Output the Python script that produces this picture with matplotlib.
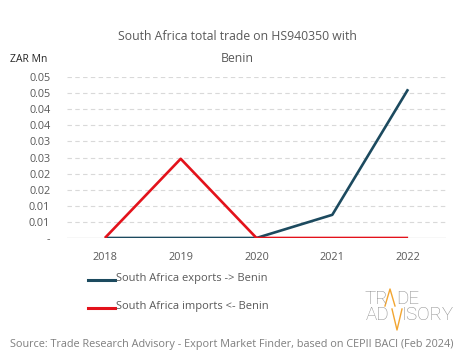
import numpy as np
import matplotlib.pyplot as plt
from matplotlib.lines import Line2D

# data
years = ['2018', '2019', '2020', '2021', '2022']
exports = [0.0, 0.0, 0.0, 0.0072, 0.0462]
imports = [0.0, 0.0246, 0.0, 0.0, 0.0]
ytick_vals = [0, 0.005, 0.01, 0.015, 0.02, 0.025, 0.03, 0.035, 0.04, 0.045, 0.05]
ytick_labels = ['-', '0.01', '0.01', '0.02', '0.02', '0.03', '0.03', '0.04', '0.04', '0.05', '0.05']

plt.rcParams['font.family'] = ['Open Sans', 'DejaVu Sans']

W, H = 465, 359
fig = plt.figure(figsize=(W / 100, H / 100), dpi=100)
ax = fig.add_axes([67 / W, 1 - 238 / H, 379 / W, 161 / H])

x = np.arange(len(years))
ax.plot(x, exports, color='#1c4a5f', lw=1.9, solid_capstyle='butt', zorder=3)
ax.plot(x, imports, color='#e3121b', lw=1.9, solid_capstyle='butt', zorder=3)

ax.set_xlim(-0.5, len(years) - 0.5)
ax.set_ylim(0, 0.05)
ax.set_yticks(ytick_vals)
ax.set_yticklabels(ytick_labels)
ax.set_xticks(x)
ax.set_xticklabels(years)
ax.tick_params(length=0, labelsize=7.8, colors='#595959')
ax.tick_params(axis='y', pad=12)
ax.tick_params(axis='x', pad=10)
for v in ytick_vals[1:]:
    ax.axhline(v, color='#d9d9d9', lw=0.8, ls=(0, (4, 3)), zorder=1)
ax.axhline(0, color='#d9d9d9', lw=1.0, zorder=2)
for s in ax.spines.values():
    s.set_visible(False)

# title and axis unit
fig.text(237 / W, 1 - 36 / H, 'South Africa total trade on HS940350 with',
         ha='center', va='center', fontsize=8.8, color='#595959')
fig.text(237 / W, 1 - 58 / H, 'Benin', ha='center', va='center',
         fontsize=8.8, color='#595959')
fig.text(10 / W, 1 - 60 / H, 'ZAR Mn', ha='left', va='center',
         fontsize=7.5, color='#262626')

# legend
for yy, col, lab in [(278, '#1c4a5f', 'South Africa exports -> Benin'),
                     (306, '#e3121b', 'South Africa imports <- Benin')]:
    fig.add_artist(Line2D([88 / W, 115 / W], [1 - (yy + 2) / H, 1 - (yy + 2) / H],
                          color=col, lw=2.2))
    fig.text(116 / W, 1 - yy / H, lab, ha='left', va='center',
             fontsize=8.0, color='#595959')

# logo
gray = '#8c8c8c'
orange = '#f2a531'
logo_parts = [('TR', 364, 298.5), ('DE', 396, 298.5), ('AD', 366, 315.5), ('ISORY', 402, 315.5)]
for txt, lx, ly in logo_parts:
    fig.text(lx / W, 1 - ly / H, txt, fontsize=13.5, color=gray, ha='left',
             va='center', family='Roboto', fontweight='light')
fig.add_artist(Line2D([385 / W, 390 / W, 395 / W],
                      [1 - 306 / H, 1 - 289 / H, 1 - 306 / H], color=orange, lw=1.0))
fig.add_artist(Line2D([392 / W, 397 / W, 402 / W],
                      [1 - 309 / H, 1 - 330 / H, 1 - 309 / H], color=orange, lw=1.0))

# source
fig.text(10 / W, 1 - 344 / H,
         'Source: Trade Research Advisory - Export Market Finder, based on CEPII BACI (Feb 2024)',
         ha='left', va='center', fontsize=7.85, color='#7f7f7f')

fig.savefig('out.png', dpi=100)
